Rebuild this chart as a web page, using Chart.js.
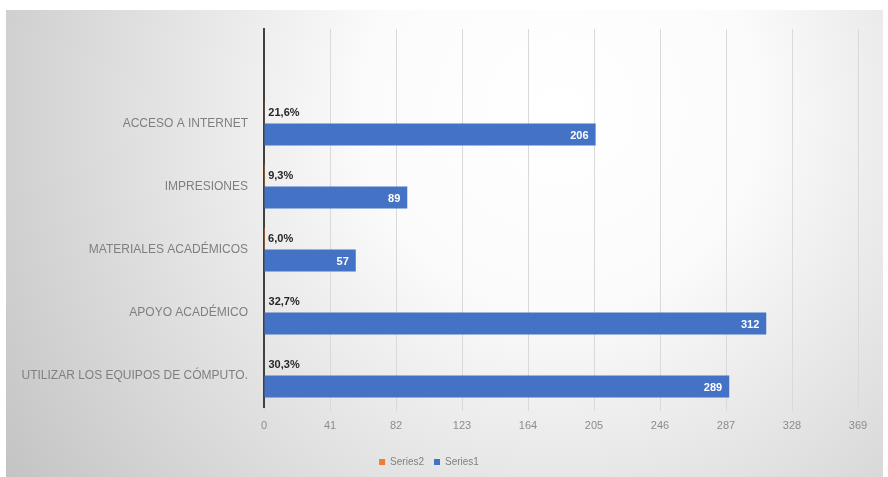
<!DOCTYPE html>
<html>
<head>
<meta charset="utf-8">
<script src="https://cdn.jsdelivr.net/npm/chart.js@4/dist/chart.umd.min.js"></script>
<style>
  html, body { margin: 0; padding: 0; background: #fff; }
  #wrap { width: 888px; height: 477px; }
</style>
</head>
<body>
<div id="wrap"><canvas id="chart" width="888" height="477"></canvas></div>
<script>
// ---- DATA ---- //
// first row is the empty slot Excel leaves above the bars
const categories = ['', 'ACCESO A INTERNET', 'IMPRESIONES', 'MATERIALES ACADÉMICOS', 'APOYO ACADÉMICO', 'UTILIZAR LOS EQUIPOS DE CÓMPUTO.'];
const series1 = [null, 206, 89, 57, 312, 289];
const series2 = [null, 0.216, 0.093, 0.060, 0.327, 0.303];
const xTicks = [0, 41, 82, 123, 164, 205, 246, 287, 328, 369];

// ---- PLUGINS ---- //
const panelBg = {
  id: 'panelBg',
  beforeDraw(chart) {
    const ctx = chart.ctx;
    ctx.save();
    ctx.fillStyle = '#fff';
    ctx.fillRect(0, 0, chart.width, chart.height);
    const g = ctx.createRadialGradient(560, 110, 0, 560, 110, 660);
    g.addColorStop(0, '#ffffff');
    g.addColorStop(0.3, '#fbfbfb');
    g.addColorStop(1, '#c4c4c4');
    ctx.fillStyle = g;
    ctx.fillRect(6, 10, 877, 467);
    ctx.restore();
  }
};

const barLabels = {
  id: 'barLabels',
  afterDatasetsDraw(chart) {
    const ctx = chart.ctx;
    ctx.save();
    ctx.font = 'bold 11px "Liberation Sans", Arial, sans-serif';
    ctx.textBaseline = 'middle';
    // percentages (Series2) just right of the tiny bars
    chart.getDatasetMeta(0).data.forEach((bar, i) => {
      if (series2[i] == null) return;
      ctx.fillStyle = '#262626';
      ctx.textAlign = 'left';
      ctx.fillText((series2[i] * 100).toFixed(1).replace('.', ',') + '%', bar.x + 4, bar.y);
    });
    // counts (Series1) inside the bar end
    chart.getDatasetMeta(1).data.forEach((bar, i) => {
      if (series1[i] == null) return;
      ctx.fillStyle = '#ffffff';
      ctx.textAlign = 'right';
      ctx.fillText(String(series1[i]), bar.x - 7, bar.y + 1);
    });
    ctx.restore();
  }
};

// ---- CHART ---- //
new Chart(document.getElementById('chart'), {
  type: 'bar',
  data: {
    labels: categories,
    datasets: [
      { label: 'Series2', data: series2, backgroundColor: '#ed7d31', categoryPercentage: 0.7, barPercentage: 1.0 },
      { label: 'Series1', data: series1, backgroundColor: '#4472c4', categoryPercentage: 0.7, barPercentage: 1.0 }
    ]
  },
  options: {
    indexAxis: 'y',
    responsive: false,
    animation: false,
    devicePixelRatio: 1,
    layout: { padding: { top: 29, right: 30, bottom: 0, left: 0 } },
    scales: {
      x: {
        min: 0, max: 369,
        afterBuildTicks(scale) { scale.ticks = xTicks.map(v => ({ value: v })); },
        afterFit(scale) { scale.height = 40; },
        grid: { color: '#d9d9d9', lineWidth: 1, tickLength: 4, drawTicks: true },
        border: { display: false },
        ticks: { color: '#8c8c8c', font: { size: 11, family: '"Liberation Sans", Arial, sans-serif' }, padding: 8 }
      },
      y: {
        afterFit(scale) { scale.width = 264; },
        grid: { display: false },
        border: { display: true, color: '#404040', width: 2 },
        ticks: { color: '#7f7f7f', font: { size: 12, family: '"Liberation Sans", Arial, sans-serif' }, padding: 8 }
      }
    },
    plugins: {
      legend: {
        position: 'bottom',
        labels: { boxWidth: 6, boxHeight: 6, padding: 10, color: '#808080', font: { size: 10, family: '"Liberation Sans", Arial, sans-serif' } }
      },
      tooltip: { enabled: false }
    }
  },
  plugins: [panelBg, barLabels]
});
</script>
</body>
</html>
